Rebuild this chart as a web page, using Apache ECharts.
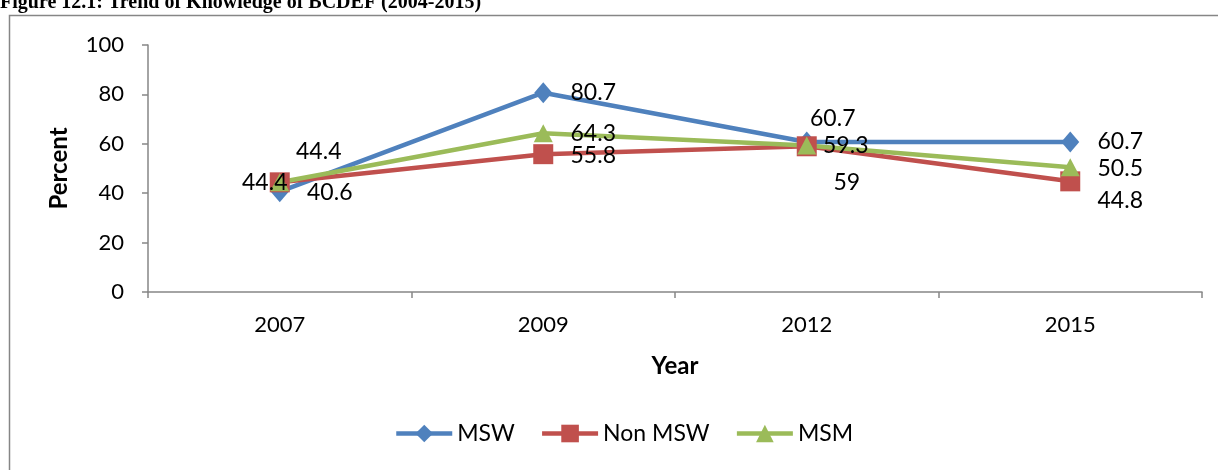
<!DOCTYPE html>
<html>
<head>
<meta charset="utf-8">
<script src="https://cdn.jsdelivr.net/npm/echarts@6/dist/echarts.min.js"></script>
<style>
  html, body { margin: 0; padding: 0; background: #fff; }
  #main { width: 1218px; height: 470px; }
</style>
</head>
<body>
<div id="main"></div>
<script>
// values
const years = ['2007', '2009', '2012', '2015'];
const msw = [40.6, 80.7, 60.7, 60.7];
const nonMsw = [44.4, 55.8, 59, 44.8];
const msm = [44.4, 64.3, 59.3, 50.5];
const yTicks = [0, 20, 40, 60, 80, 100];

// where each value label sits relative to its point (dx, dy)
const mswLabelPos = [[50, 1], [50, 0], [26, -23], [50, 0]];
const nonLabelPos = [[-15, 0], [50, 1], [40, 36], [50, 19]];
const msmLabelPos = [[39, -31], [50, 0], [39, 0], [50, 1]];

const FONT = 'Lato';
const axisGrey = '#868686';

function withLabels(vals, pos) {
  return vals.map(function (v, i) {
    return { value: v, label: { offset: pos[i] } };
  });
}

function lineSeries(name, vals, pos, color, symbol, size) {
  return {
    name: name,
    type: 'line',
    data: withLabels(vals, pos),
    symbol: symbol,
    symbolSize: size,
    itemStyle: { color: color },
    lineStyle: { color: color, width: 4.5 },
    label: {
      show: true,
      position: 'inside',
      color: '#000',
      fontFamily: FONT,
      fontSize: 23
    },
    emphasis: { disabled: true },
    animation: false
  };
}

var myChart = echarts.init(document.getElementById('main'));
var option = {
  backgroundColor: '#fff',
  textStyle: { fontFamily: FONT },
  graphic: [
    {
      type: 'rect',
      shape: { x: 9.5, y: 15.5, width: 1300, height: 600 },
      style: { fill: 'none', stroke: axisGrey, lineWidth: 1.5 },
      silent: true
    },
    {
      type: 'text',
      x: 0,
      y: 13,
      style: {
        text: 'Figure 12.1: Trend of Knowledge of BCDEF (2004-2015)',
        font: 'bold 20px "Liberation Serif"',
        fill: '#000',
        textVerticalAlign: 'bottom'
      },
      silent: true
    }
  ],
  grid: { left: 148, right: 16, top: 45, bottom: 178 },
  legend: {
    bottom: 20,
    left: 389,
    itemWidth: 56,
    itemHeight: 22,
    itemGap: 25,
    lineStyle: { width: 4.5 },
    textStyle: { fontFamily: FONT, fontSize: 23, color: '#000' },
    data: ['MSW', 'Non MSW', 'MSM']
  },
  xAxis: {
    type: 'category',
    data: years,
    boundaryGap: true,
    name: 'Year',
    nameLocation: 'middle',
    nameGap: 62,
    nameTextStyle: { fontFamily: FONT, fontSize: 24, fontWeight: 'bold', color: '#000' },
    axisLine: { lineStyle: { color: axisGrey, width: 1.5 } },
    axisTick: { show: true, interval: 0, length: 6, lineStyle: { color: axisGrey, width: 1.5 } },
    axisLabel: { fontFamily: FONT, fontSize: 22, color: '#000', margin: 22 }
  },
  yAxis: {
    type: 'value',
    min: yTicks[0],
    max: yTicks[yTicks.length - 1],
    interval: 20,
    name: 'Percent',
    nameLocation: 'middle',
    nameRotate: 90,
    nameGap: 77,
    nameTextStyle: { fontFamily: FONT, fontSize: 24, fontWeight: 'bold', color: '#000' },
    axisLine: { show: true, lineStyle: { color: axisGrey, width: 1.5 } },
    axisTick: { show: true, length: 6, lineStyle: { color: axisGrey, width: 1.5 } },
    splitLine: { show: false },
    axisLabel: { fontFamily: FONT, fontSize: 22, color: '#000', margin: 24 }
  },
  series: [
    lineSeries('MSW', msw, mswLabelPos, '#4F81BD', 'diamond', [18, 21]),
    lineSeries('Non MSW', nonMsw, nonLabelPos, '#C0504D', 'rect', 20),
    lineSeries('MSM', msm, msmLabelPos, '#9BBB59', 'triangle', [19, 18])
  ]
};

option && myChart.setOption(option);
</script>
</body>
</html>
